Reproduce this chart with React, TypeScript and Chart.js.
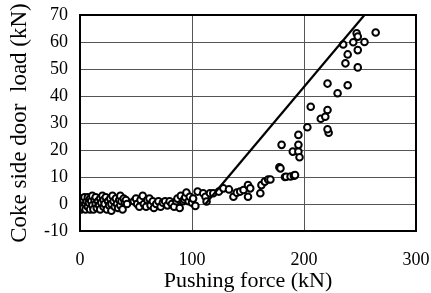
import React, { useEffect, useRef } from "react";
import { Chart, registerables } from "chart.js";

Chart.register(...registerables);

const xTicks = [0, 100, 200, 300];
const yTicks = [-10, 0, 10, 20, 30, 40, 50, 60, 70];

const pushForce = [
  0, 0, 1, 1, 2, 3, 3, 4, 5, 5, 6, 7, 7, 8, 9, 9, 10, 11, 11, 12, 13, 14, 14, 15, 16, 17, 18, 18, 19, 20,
  21, 21, 22, 23, 24, 25, 26, 27, 28, 28, 29, 30, 31, 32, 33, 34, 35, 36, 36, 37, 38, 39, 40, 41, 42,
  48, 50, 51, 53, 54, 56, 57, 59, 60, 62, 63, 65, 66, 68, 70, 72, 74, 76, 78, 80, 82, 84, 86, 87, 89,
  90, 92, 93, 94, 95, 97, 98, 100, 101, 103, 105, 110, 112, 113, 116, 119, 124, 128, 133, 137, 140,
  143, 146, 150, 150, 152, 161, 162, 165, 168, 170, 178, 179, 180, 183, 184, 188, 191, 192, 190, 195,
  195, 196, 195, 203, 206, 215, 219, 221, 222, 221, 221, 230, 235, 239, 237, 239, 244, 248, 248, 247,
  254, 248, 264
];
const doorLoad = [
  -1, 1, 2, -2, 0, 1.5, -1.5, 2.5, 0, -2, 1, -1, 2.5, 0.5, -2, 2, 1, -0.5, 3, -2, 1.5, 0, 2.5, -1.5, 1, -0.5, 2, -2, 0.5, 3,
  -1, 1.5, 0, 2.5, -2, 1, -0.5, 2, 0, -2.5, 3, 1, -1, 2, 0, -1.5, 1.5, 3, -0.5, 1, -2, 2, 0.5, 1.5, 0,
  1, 2, 0, -1, 1.5, 3, 0, -1, 1.5, 2, -0.5, 1, -1.5, 0, 1, -1, 0.5, 1, -0.5, 1, 0, -1, 1, 2, -1.5,
  3, 1, 1.7, 2.5, 4.2, 1, 2.7, 0.5, 2, -0.7, 4.6, 4, 2.7, 0.9, 4, 4, 4.6, 5.8, 5.4, 2.7, 4.2,
  4.6, 5.2, 7, 2.7, 5.8, 4, 7, 8.3, 9.1, 9.1, 13.6, 13.2, 21.9, 10, 10.1, 10.2, 10.5, 10.7, 19.4, 19.4,
  21.9, 17.3, 25.6, 28.4, 36, 31.6, 32.3, 34.8, 26.4, 27.7, 44.6, 41, 59.1, 44, 52.1, 55.4, 59.9, 57, 50.6, 63.2,
  60, 62, 63.5
];

const lineX = [112, 254];
const lineY = [0, 70];

export default function App() {
  const ref = useRef<HTMLCanvasElement | null>(null);

  useEffect(() => {
    if (!ref.current) return;
    const frame = {
      id: "frame",
      afterDatasetsDraw(chart: any) {
        const { ctx, chartArea: a } = chart;
        ctx.save();
        ctx.strokeStyle = "#000";
        ctx.lineWidth = 2;
        ctx.strokeRect(a.left, a.top, a.right - a.left, a.bottom - a.top);
        ctx.restore();
      },
    };
    const chart = new Chart(ref.current, {
      type: "scatter",
      data: {
        datasets: [
          {
            type: "line",
            data: lineX.map((x, i) => ({ x, y: lineY[i] })),
            borderColor: "#000",
            borderWidth: 2.2,
            pointRadius: 0,
            fill: false,
            order: 0,
          } as any,
          {
            data: pushForce.map((x, i) => ({ x, y: doorLoad[i] })),
            pointRadius: 3.3,
            pointBorderWidth: 2,
            borderColor: "#000",
            backgroundColor: "#fff",
            pointBackgroundColor: "#fff",
            pointBorderColor: "#000",
            order: 1,
          },
        ],
      },
      options: {
        animation: false,
        responsive: false,
        layout: { padding: { top: 15, right: 15, left: 0, bottom: 0 } },
        plugins: { legend: { display: false }, tooltip: { enabled: false } },
        scales: {
          x: {
            type: "linear",
            min: 0,
            max: 300,
            afterBuildTicks: (s: any) => {
              s.ticks = xTicks.map((v) => ({ value: v }));
            },
            afterFit: (s: any) => {
              s.height = 62;
              s.paddingLeft = 0;
              s.paddingRight = 0;
            },
            grid: { color: "#555", lineWidth: 1, drawTicks: false },
            border: { color: "#000", width: 2 },
            ticks: {
              color: "#000",
              padding: 18,
              maxRotation: 0,
              font: { family: "'Liberation Serif', serif", size: 18 },
            },
            title: {
              display: true,
              text: "Pushing force (kN)",
              color: "#000",
              padding: { top: 0, bottom: -1 },
              font: { family: "'Liberation Serif', serif", size: 22, lineHeight: 1.2 },
            },
          },
          y: {
            type: "linear",
            min: -10,
            max: 70,
            afterBuildTicks: (s: any) => {
              s.ticks = yTicks.map((v) => ({ value: v }));
            },
            afterFit: (s: any) => {
              s.width = 80;
              s.paddingTop = 0;
              s.paddingBottom = 0;
            },
            grid: { color: "#555", lineWidth: 1, drawTicks: false },
            border: { color: "#000", width: 2 },
            ticks: {
              color: "#000",
              padding: 12,
              font: { family: "'Liberation Serif', serif", size: 18 },
            },
            title: {
              display: true,
              text: "Coke side door  load (kN)",
              color: "#000",
              padding: { top: 6, bottom: 0 },
              font: { family: "'Liberation Serif', serif", size: 23, lineHeight: 1.2 },
            },
          },
        },
      },
      plugins: [frame],
    } as any);
    return () => chart.destroy();
  }, []);

  return (
    <div style={{ position: "fixed", left: 0, top: 0, width: 431, height: 293, background: "#fff" }}>
      <canvas ref={ref} width={431} height={293} style={{ width: 431, height: 293 }} />
    </div>
  );
}
